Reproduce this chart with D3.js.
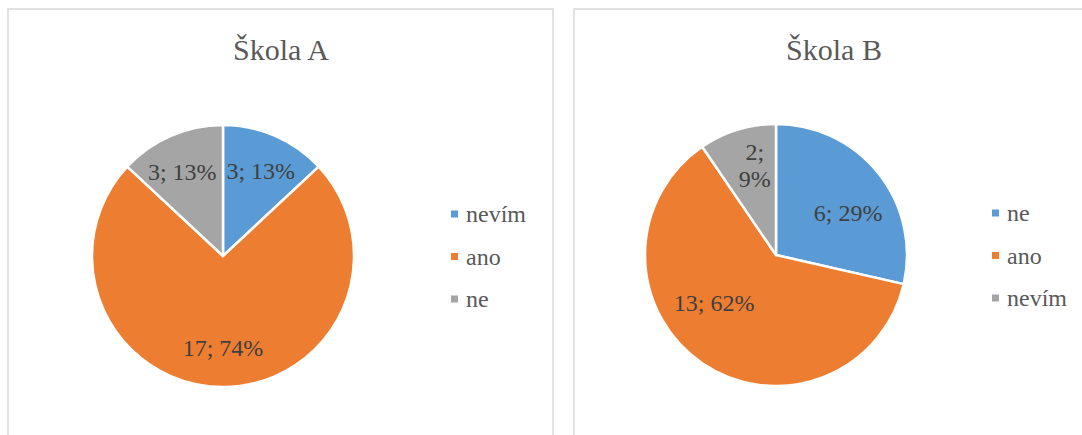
<!DOCTYPE html>
<html>
<head>
<meta charset="utf-8">
<script src="https://cdn.jsdelivr.net/npm/d3@7"></script>
<style>
  html body svg#pies text, html body svg#pies tspan,
  html body svg#pies g text, html body svg#pies g g text, html body svg#pies g g text tspan {
    font-family: "Liberation Serif", "Tinos", "Times New Roman", "FreeSerif" !important;
  }
</style>
</head>
<body style="margin:0;background:#fff">
<svg id="pies" width="1082" height="435" style="display:block"></svg>
<script>
// ---- data ----
const titleA = "Škola A";
const categoriesA = ["nevím", "ano", "ne"];
const valuesA = [3, 17, 3];
const percentsA = [13, 74, 13];

const titleB = "Škola B";
const categoriesB = ["ne", "ano", "nevím"];
const valuesB = [6, 13, 2];
const percentsB = [29, 62, 9];

const seriesColors = ["#5B9BD5", "#ED7D31", "#A5A5A5"];

// ---- layout ----
const serifFamily = '"Liberation Serif", "Tinos", "Times New Roman", "FreeSerif"';
const panels = [
  { title: titleA, cats: categoriesA, vals: valuesA, pcts: percentsA,
    box: [8, 9, 545, 440], cx: 223, cy: 256, r: 131, titleX: 281,
    legendX: 451,
    labelAngleShift: [0.5, 0, -2.5], labelRadius: [0.71, 0.70, 0.71], wrap: [false, false, false] },
  { title: titleB, cats: categoriesB, vals: valuesB, pcts: percentsB,
    box: [574, 9, 520, 440], cx: 776, cy: 255, r: 131, titleX: 834,
    legendX: 992,
    labelAngleShift: [8.6, 17.7, 3.8], labelRadius: [0.635, 0.6, 0.7], wrap: [false, false, true] }
];

const svg = d3.select("#pies");

panels.forEach(p => {
  const g = svg.append("g");
  g.append("rect")
    .attr("x", p.box[0]).attr("y", p.box[1])
    .attr("width", p.box[2]).attr("height", p.box[3])
    .attr("fill", "#fff").attr("stroke", "#D9D9D9").attr("stroke-width", 1.5);

  g.append("text")
    .attr("x", p.titleX).attr("y", 60)
    .attr("text-anchor", "middle")
    .attr("font-size", 30)
    .attr("font-family", serifFamily)
    .style("font-family", serifFamily, "important")
    .attr("fill", "#595959")
    .text(p.title);

  const pie = d3.pie().sort(null).value(d => d.v).startAngle(0).endAngle(2 * Math.PI);
  const data = p.vals.map((v, i) => ({ v, i, cat: p.cats[i], pct: p.pcts[i] }));
  const arcs = pie(data);
  const arc = d3.arc().innerRadius(0).outerRadius(p.r);
  const color = d3.scaleOrdinal().domain(d3.range(seriesColors.length)).range(seriesColors);

  const pg = g.append("g").attr("transform", `translate(${p.cx},${p.cy})`);
  pg.selectAll("path.slice").data(arcs).join("path")
    .attr("class", "slice")
    .attr("d", arc)
    .attr("fill", d => color(d.data.i))
    .attr("stroke", "#fff")
    .attr("stroke-width", 2.5)
    .attr("stroke-linejoin", "round");

  arcs.forEach((a, k) => {
    const mid = (a.startAngle + a.endAngle) / 2 + p.labelAngleShift[k] * Math.PI / 180;
    const rr = p.r * p.labelRadius[k];
    const x = rr * Math.sin(mid), y = -rr * Math.cos(mid);
    const lines = p.wrap[k] ? [a.data.v + ";", a.data.pct + "%"] : [a.data.v + "; " + a.data.pct + "%"];
    const t = pg.append("text")
      .attr("text-anchor", "middle")
      .attr("font-size", 24)
      .attr("font-family", serifFamily)
      .style("font-family", serifFamily, "important")
      .attr("fill", "#404040");
    const lh = 27;
    lines.forEach((ln, j) => {
      t.append("tspan")
        .attr("x", x)
        .attr("y", y + (j - (lines.length - 1) / 2) * lh + 8)
        .text(ln);
    });
  });

  const ly = d3.scalePoint().domain(p.cats).range([p.cy - 42, p.cy + 43]);
  const lg = g.append("g");
  p.cats.forEach((c, i) => {
    lg.append("rect")
      .attr("x", p.legendX).attr("y", ly(c) - 3.5)
      .attr("width", 7).attr("height", 7)
      .attr("fill", color(i));
    lg.append("text")
      .attr("x", p.legendX + 15).attr("y", ly(c) + 8)
      .attr("font-size", 24)
      .attr("font-family", serifFamily)
      .style("font-family", serifFamily, "important")
      .attr("fill", "#595959")
      .text(c);
  });
});
</script>
</body>
</html>
